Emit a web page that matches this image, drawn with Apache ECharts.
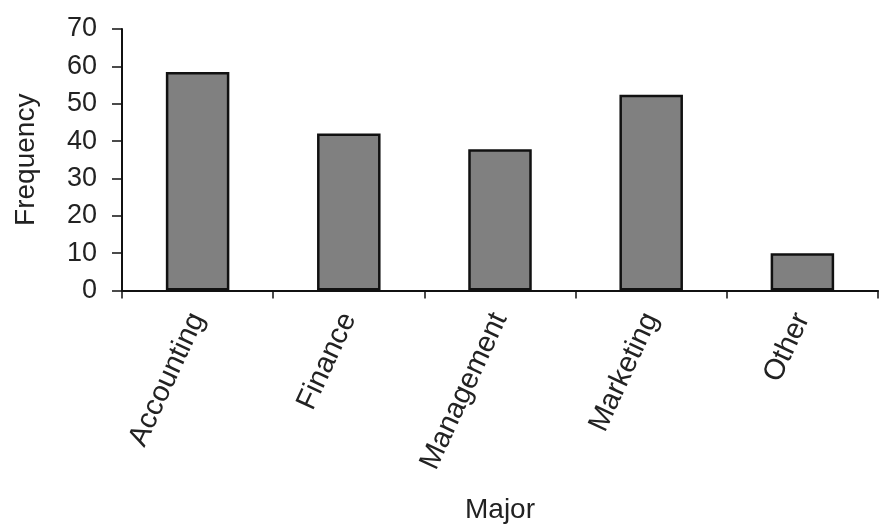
<!DOCTYPE html>
<html>
<head>
<meta charset="utf-8">
<script src="https://cdn.jsdelivr.net/npm/echarts@6/dist/echarts.min.js"></script>
<style>
html,body{margin:0;padding:0;background:#fff;}
#chart{width:890px;height:529px;}
</style>
</head>
<body>
<div id="chart"></div>
<script>
var categories = ['Accounting', 'Finance', 'Management', 'Marketing', 'Other'];
var frequency = [58.5, 42, 37.8, 52.4, 10];
var xAxisTitle = 'Major';
var yAxisTitle = 'Frequency';

var FONT = '"Liberation Sans", Arial, sans-serif';
var chart = echarts.init(document.getElementById('chart'));
chart.setOption({
  backgroundColor: '#ffffff',
  animation: false,
  grid: { left: 122, right: 12, top: 29, bottom: 238.5, containLabel: false },
  xAxis: {
    type: 'category',
    data: categories,
    name: xAxisTitle,
    nameLocation: 'middle',
    nameGap: 206,
    nameTextStyle: { fontFamily: FONT, fontSize: 28, color: '#222' },
    axisLine: { lineStyle: { color: '#111', width: 2 } },
    axisTick: { show: true, alignWithLabel: false, length: 8, lineStyle: { color: '#111', width: 1.5 } },
    axisLabel: { rotate: 65, margin: 24, fontFamily: FONT, fontSize: 29, color: '#222', interval: 0 }
  },
  yAxis: {
    type: 'value',
    min: 0, max: 70, interval: 10,
    name: yAxisTitle,
    nameLocation: 'middle',
    nameGap: 82,
    nameTextStyle: { fontFamily: FONT, fontSize: 28, color: '#222' },
    splitLine: { show: false },
    axisLine: { show: true, lineStyle: { color: '#111', width: 2 } },
    axisTick: { show: true, length: 10, lineStyle: { color: '#111', width: 1.5 } },
    axisLabel: { margin: 25, fontFamily: FONT, fontSize: 27, color: '#222' }
  },
  series: [{
    type: 'bar',
    data: frequency,
    barWidth: '42%',
    itemStyle: { color: '#808080', borderColor: '#111', borderWidth: 2.5 }
  }]
});
</script>
</body>
</html>
